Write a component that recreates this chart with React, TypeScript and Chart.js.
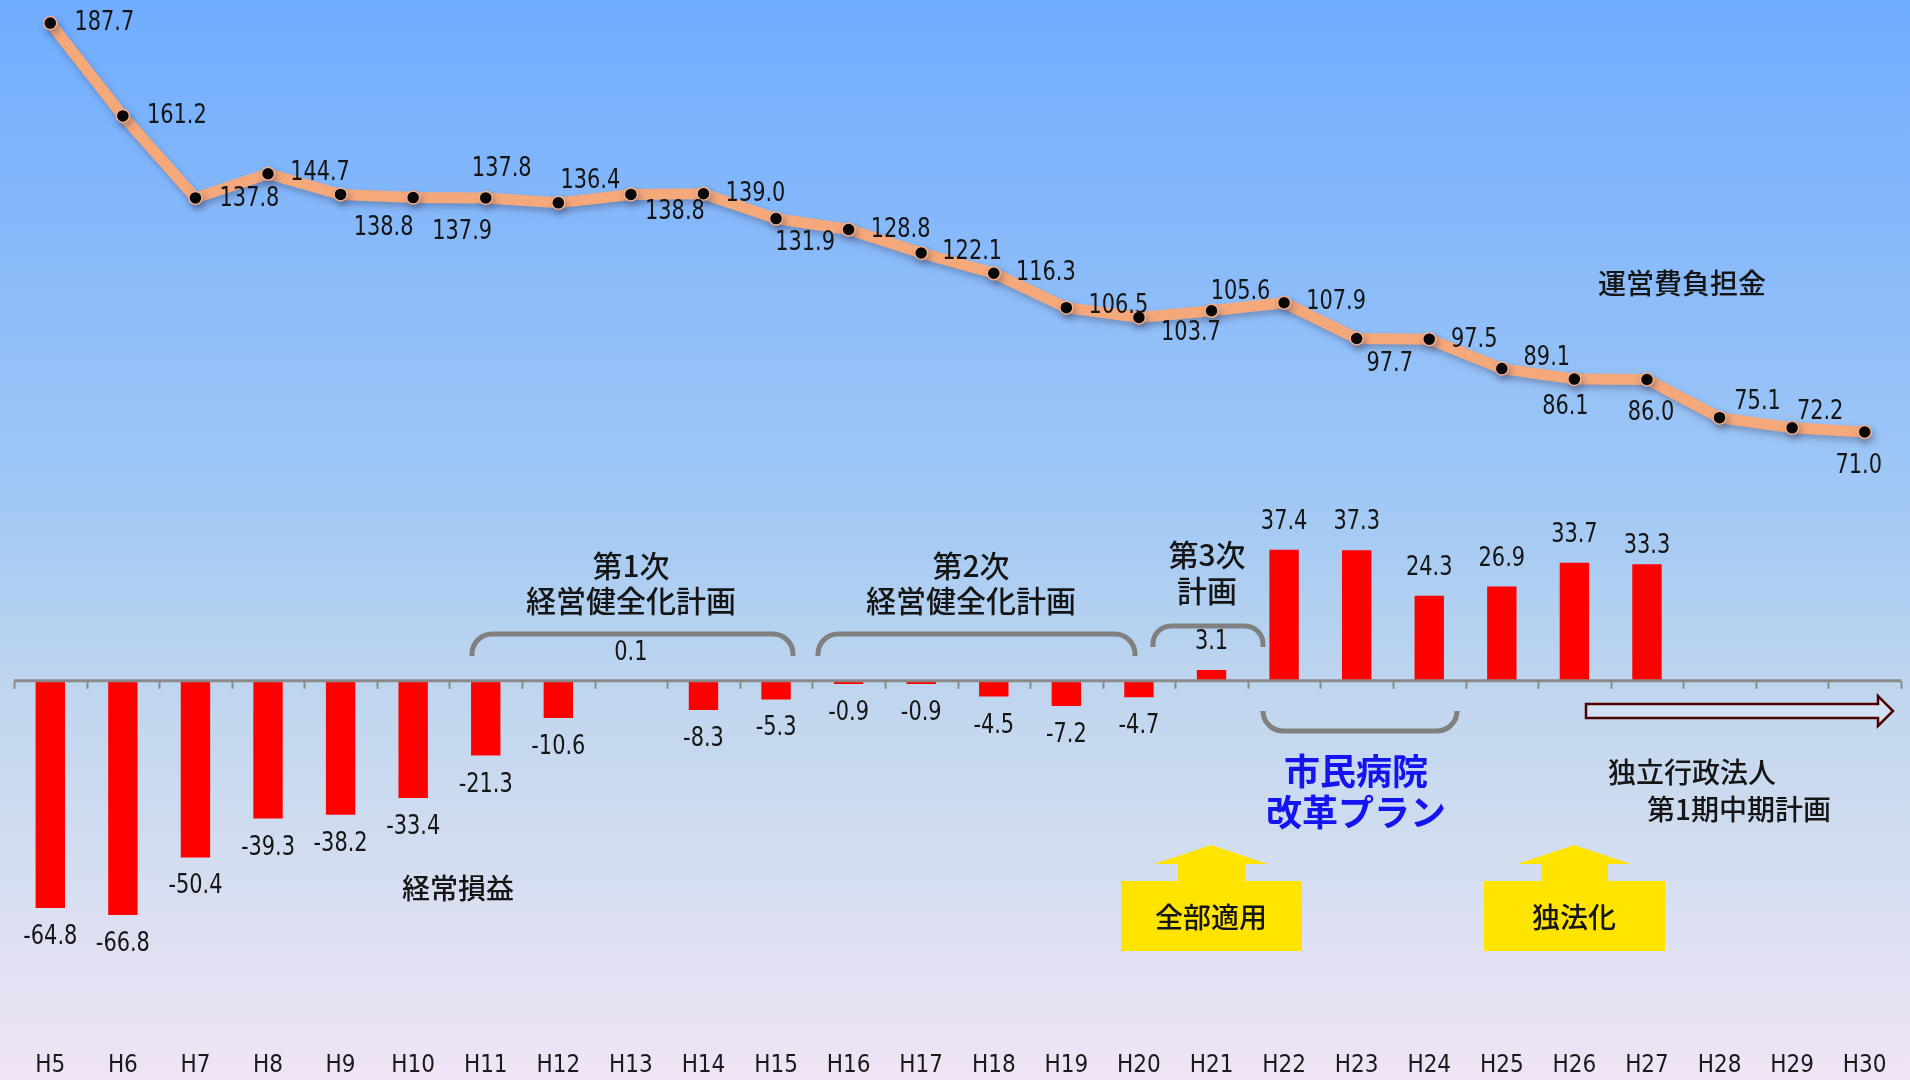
import { useEffect, useRef } from "react";
import { Chart, registerables } from "chart.js";

Chart.register(...registerables);

// ---- data ----
const categories = [
  "H5", "H6", "H7", "H8", "H9", "H10", "H11", "H12", "H13", "H14", "H15", "H16", "H17",
  "H18", "H19", "H20", "H21", "H22", "H23", "H24", "H25", "H26", "H27", "H28", "H29", "H30",
];

// 運営費負担金 (line)
const operatingSubsidy = [
  187.7, 161.2, 137.8, 144.7, 138.8, 137.9, 137.8, 136.4, 138.8, 139.0, 131.9, 128.8, 122.1,
  116.3, 106.5, 103.7, 105.6, 107.9, 97.7, 97.5, 89.1, 86.1, 86.0, 75.1, 72.2, 71.0,
];

// 経常損益 (bars)
const ordinaryProfit = [
  -64.8, -66.8, -50.4, -39.3, -38.2, -33.4, -21.3, -10.6, 0.1, -8.3, -5.3, -0.9, -0.9,
  -4.5, -7.2, -4.7, 3.1, 37.4, 37.3, 24.3, 26.9, 33.7, 33.3, null, null, null,
];

// ---- label placement (layout only) ----
const lineLabelOffsets: [number, number][] = [
  [54, 0], [54, 0], [54, 1], [52, -1], [43, 34], [49, 34], [16, -29], [32, -22], [44, 18],
  [52, 0], [29, 24], [52, 1], [51, -1], [52, 0], [52, -2], [52, 16], [29, -19], [52, -1],
  [33, 26], [45, 1], [45, -11], [-9, 28], [4, 34], [38, -16], [28, -16], [-6, 34],
];
const barLabelNudge = [
  0, 0, 0, 0, 0, 0, 0, 0, 0, 0, 0, 0, 0, 0, 0, 0, 0, 0, 0, 0, 0, 0, 10, 0, 0, 0,
];

const NUM_FONT = "'Liberation Sans Narrow', 'DejaVu Sans Condensed', 'Noto Sans', sans-serif";
const CJK_FONT = "'Noto Sans CJK JP', 'Noto Sans CJK SC', sans-serif";

function condensedText(ctx: CanvasRenderingContext2D, text: string, x: number, y: number, sx: number) {
  ctx.save();
  ctx.translate(x, y);
  ctx.scale(sx, 1);
  ctx.fillText(text, 0, 0);
  ctx.restore();
}

const bgPlugin = {
  id: "bgGradient",
  beforeDraw(chart: any) {
    const { ctx, width, height } = chart;
    const g = ctx.createLinearGradient(0, 0, 0, height);
    g.addColorStop(0, "#70acff");
    g.addColorStop(0.46, "#a0c8f5");
    g.addColorStop(0.63, "#bed5ee");
    g.addColorStop(0.79, "#d2ddf0");
    g.addColorStop(1, "#f1e4f6");
    ctx.save();
    ctx.fillStyle = g;
    ctx.fillRect(0, 0, width, height);
    ctx.restore();
  },
};

const shadowPlugin = {
  id: "lineShadow",
  beforeDatasetDraw(chart: any, args: any) {
    if (args.meta.type === "line") {
      const ctx = chart.ctx;
      ctx.save();
      ctx.shadowColor = "rgba(60,60,90,0.35)";
      ctx.shadowBlur = 6;
      ctx.shadowOffsetX = 2;
      ctx.shadowOffsetY = 4;
    }
  },
  afterDatasetDraw(chart: any, args: any) {
    if (args.meta.type === "line") chart.ctx.restore();
  },
};

const labelsPlugin = {
  id: "valueLabels",
  afterDatasetsDraw(chart: any) {
    const { ctx, chartArea, scales } = chart;
    const zeroY = scales.y.getPixelForValue(0);
    // zero axis line with tick marks
    ctx.save();
    ctx.strokeStyle = "#8a8a8a";
    ctx.lineWidth = 3;
    ctx.beginPath();
    ctx.moveTo(chartArea.left, zeroY);
    ctx.lineTo(chartArea.right, zeroY);
    ctx.stroke();
    ctx.lineWidth = 2;
    const n = categories.length;
    const step = (chartArea.right - chartArea.left) / n;
    for (let i = 0; i <= n; i++) {
      const x = Math.round(chartArea.left + i * step) + 0.5;
      ctx.beginPath();
      ctx.moveTo(x, zeroY);
      ctx.lineTo(x, zeroY + 8);
      ctx.stroke();
    }
    ctx.restore();

    ctx.save();
    ctx.fillStyle = "#151515";
    ctx.font = `27px ${NUM_FONT}`;
    ctx.textAlign = "center";
    ctx.textBaseline = "middle";
    // bar labels
    const barMeta = chart.getDatasetMeta(0);
    ordinaryProfit.forEach((v, i) => {
      if (v === null) return;
      const el = barMeta.data[i];
      const y = v < 0 ? el.y + 29 : el.y - 28 + barLabelNudge[i];
      condensedText(ctx, v.toFixed(1), el.x, y, 0.86);
    });
    // line labels
    const lineMeta = chart.getDatasetMeta(1);
    operatingSubsidy.forEach((v, i) => {
      const el = lineMeta.data[i];
      const [dx, dy] = lineLabelOffsets[i];
      condensedText(ctx, v.toFixed(1), el.x + dx, el.y + dy, 0.86);
    });
    ctx.restore();
  },
};

function bracketDown(ctx: CanvasRenderingContext2D, x1: number, x2: number, yTop: number, yEnd: number, r: number) {
  ctx.beginPath();
  ctx.moveTo(x1, yEnd);
  ctx.arcTo(x1, yTop, x1 + r, yTop, r);
  ctx.lineTo(x2 - r, yTop);
  ctx.arcTo(x2, yTop, x2, yEnd, r);
  ctx.lineTo(x2, yEnd);
  ctx.stroke();
}
function bracketUp(ctx: CanvasRenderingContext2D, x1: number, x2: number, yBottom: number, yEnd: number, r: number) {
  ctx.beginPath();
  ctx.moveTo(x1, yEnd);
  ctx.arcTo(x1, yBottom, x1 + r, yBottom, r);
  ctx.lineTo(x2 - r, yBottom);
  ctx.arcTo(x2, yBottom, x2, yEnd, r);
  ctx.lineTo(x2, yEnd);
  ctx.stroke();
}
function yellowArrow(ctx: CanvasRenderingContext2D, cx: number, text: string) {
  ctx.fillStyle = "#ffe400";
  ctx.fillRect(cx - 90, 881, 181, 70);
  ctx.fillRect(cx - 33, 862, 67, 20);
  ctx.beginPath();
  ctx.moveTo(cx - 57, 864);
  ctx.lineTo(cx, 845);
  ctx.lineTo(cx + 57, 864);
  ctx.closePath();
  ctx.fill();
  ctx.fillStyle = "#151515";
  ctx.font = `500 28px ${CJK_FONT}`;
  ctx.textAlign = "center";
  ctx.textBaseline = "middle";
  ctx.fillText(text, cx, 917);
}

const annotationPlugin = {
  id: "annotations",
  afterDraw(chart: any) {
    const ctx: CanvasRenderingContext2D = chart.ctx;
    ctx.save();
    ctx.fillStyle = "#151515";
    ctx.textAlign = "center";
    ctx.textBaseline = "middle";
    ctx.font = `500 28px ${CJK_FONT}`;
    ctx.fillText("運営費負担金", 1682, 283);
    ctx.fillText("経常損益", 458, 888);
    ctx.font = `500 30px ${CJK_FONT}`;
    ctx.fillText("第1次", 631, 566);
    ctx.fillText("経営健全化計画", 631, 601);
    ctx.fillText("第2次", 971, 566);
    ctx.fillText("経営健全化計画", 971, 601);
    ctx.fillText("第3次", 1207, 555);
    ctx.fillText("計画", 1207, 591);

    ctx.textAlign = "left";
    ctx.font = `500 28px ${CJK_FONT}`;
    ctx.fillText("独立行政法人", 1608, 772);
    ctx.fillText("第1期中期計画", 1647, 809);

    ctx.fillStyle = "#1414f0";
    ctx.textAlign = "center";
    ctx.font = `bold 36px ${CJK_FONT}`;
    ctx.fillText("市民病院", 1356, 771);
    ctx.fillText("改革プラン", 1356, 812);

    // brackets
    ctx.strokeStyle = "#808080";
    ctx.lineWidth = 5;
    ctx.lineCap = "butt";
    bracketDown(ctx, 472, 793, 634, 656, 20);
    bracketDown(ctx, 818, 1135, 634, 656, 20);
    bracketDown(ctx, 1153, 1263, 626, 647, 18);
    bracketUp(ctx, 1263, 1457, 731, 712, 20);

    // hollow arrow
    ctx.beginPath();
    ctx.moveTo(1586, 704);
    ctx.lineTo(1878, 704);
    ctx.lineTo(1878, 696);
    ctx.lineTo(1893, 711);
    ctx.lineTo(1878, 726);
    ctx.lineTo(1878, 718);
    ctx.lineTo(1586, 718);
    ctx.closePath();
    ctx.fillStyle = "rgba(215,228,248,0.8)";
    ctx.fill();
    ctx.strokeStyle = "#4d0000";
    ctx.lineWidth = 2.5;
    ctx.lineJoin = "miter";
    ctx.stroke();

    yellowArrow(ctx, 1211, "全部適用");
    yellowArrow(ctx, 1574, "独法化");
    ctx.restore();
  },
};

export default function App() {
  const ref = useRef<HTMLCanvasElement>(null);
  useEffect(() => {
    document.body.style.margin = "0";
    const chart = new Chart(ref.current as HTMLCanvasElement, {
      type: "bar",
      data: {
        labels: categories,
        datasets: [
          {
            type: "bar",
            label: "経常損益",
            data: ordinaryProfit as any,
            backgroundColor: "#ff0000",
            borderWidth: 0,
            barPercentage: 0.405,
            categoryPercentage: 1,
          },
          {
            type: "line",
            label: "運営費負担金",
            data: operatingSubsidy,
            borderColor: "#f5a87a",
            borderWidth: 11,
            tension: 0,
            pointRadius: 6.5,
            pointBackgroundColor: "#050505",
            pointBorderColor: "#f5b08a",
            pointBorderWidth: 1.5,
            fill: false,
          } as any,
        ],
      },
      options: {
        responsive: false,
        animation: false,
        devicePixelRatio: 1,
        layout: { padding: { left: 14, right: 9, top: 2, bottom: 0 } },
        plugins: { legend: { display: false }, tooltip: { enabled: false } },
        scales: {
          x: {
            offset: true,
            grid: { display: false },
            border: { display: false },
            ticks: {
              color: "#1a1a1a",
              font: { family: NUM_FONT, size: 24 },
              padding: 0,
              maxRotation: 0,
              autoSkip: false,
            },
          },
          y: { display: false, min: -103.4, max: 192 },
        },
      },
      plugins: [bgPlugin, shadowPlugin, labelsPlugin, annotationPlugin],
    });
    return () => chart.destroy();
  }, []);
  return (
    <div style={{ width: 1910, height: 1080 }}>
      <canvas ref={ref} width={1910} height={1080} style={{ display: "block" }} />
    </div>
  );
}
